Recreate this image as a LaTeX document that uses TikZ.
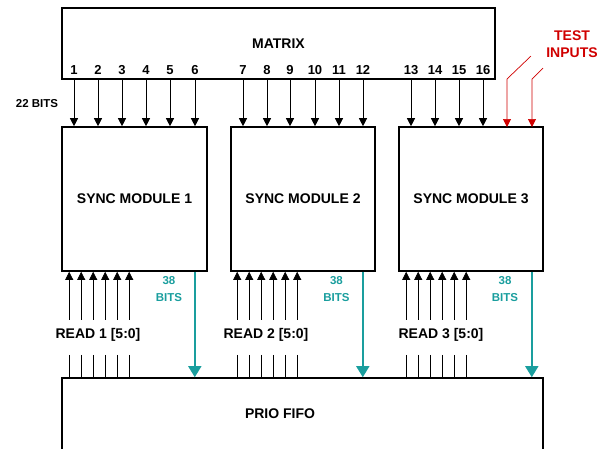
\documentclass[tikz,border=0pt]{standalone}
\usepackage{fontspec}
\setmainfont{Liberation Sans}
\usepackage{tikz}
\usetikzlibrary{positioning,arrows.meta,calc}
\definecolor{BusTeal}{HTML}{1A9E9E}
\definecolor{TestRed}{HTML}{D00000}

\begin{document}
\begin{tikzpicture}[
  x=1pt, y=-1pt,
  blk/.style={draw,line width=1.6pt,inner sep=0pt,font=\fontsize{14}{17}\selectfont\bfseries},
  pinno/.style={font=\fontsize{13}{15}\selectfont\bfseries,inner sep=0pt},
  ttl/.style={font=\fontsize{14}{17}\selectfont\bfseries,inner sep=0pt},
  small/.style={font=\fontsize{11.5}{17}\selectfont\bfseries,inner sep=0pt,align=center},
  arr/.style={-{Triangle[length=8pt,width=8pt]},line width=.7pt},
  pin/.style={line width=.7pt},
  tst/.style={-{Triangle[length=8pt,width=8pt]},line width=.7pt,draw=TestRed},
  bus/.style={-{Triangle[length=11pt,width=13pt]},line width=1.6pt,draw=BusTeal}]

\clip (0,0) rectangle (598,448);

% blocks
\node[blk,minimum width=433pt,minimum height=71pt] (mx) at (278.5,43.5) {MATRIX};
\node[blk,minimum width=145pt,minimum height=144pt] (s1) at (134.5,199) {SYNC MODULE 1};
\node[blk,minimum width=144pt,minimum height=144pt] (s2) at (303,199) {SYNC MODULE 2};
\node[blk,minimum width=144pt,minimum height=144pt] (s3) at (471,199) {SYNC MODULE 3};
\node[blk,minimum width=481pt,minimum height=92pt] (fifo) at (302.5,424) {};
\node[ttl] at (280,414) {PRIO FIFO};

% matrix outputs
\foreach \n/\x/\m in {1/74/s1,2/98/s1,3/122/s1,4/146/s1,5/170/s1,6/195/s1,
                      7/243/s2,8/267/s2,9/290/s2,10/315/s2,11/339/s2,12/363/s2,
                      13/411/s3,14/435/s3,15/459/s3,16/483/s3}{
  \node[pinno] (n\n) at (\x,70) {\n};
  \draw[arr] (n\n |- mx.south) -- (n\n |- \m.north);
}
\node[small] (bw) at (37,104) {22 BITS};

% test inputs
\node[ttl,text=TestRed,align=center] (ti) at (572,44.5) {TEST\\INPUTS};
\coordinate (t1) at (531,56);
\coordinate (t2) at (543,68);
\draw[tst] (t1) -- ++(-24,23) -- ++(0,48);
\draw[tst] (t2) -- ++(-11,11) -- ++(0,48);

% read strobes
\foreach \m/\o in {s1/8,s2/7,s3/8}{
  \foreach \k in {0,...,5}{
    \draw[arr] ($(\m.south west)+(\o+12*\k,48)$) -- ++(0,-48);
    \draw[pin] ($(\m.south west)+(\o+12*\k,83)$) -- ++(0,24);
  }
}
\node[ttl] (rd1) at (98,335) {READ 1 [5:0]};
\node[ttl] (rd2) at (266,335) {READ 2 [5:0]};
\node[ttl] (rd3) at (441,335) {READ 3 [5:0]};

% 38 bit buses
\coordinate (o1) at ([xshift=-13pt]s1.south east);
\coordinate (o2) at ([xshift=-13pt]s2.south east);
\coordinate (o3) at ([xshift=-12pt]s3.south east);
\draw[bus] (o1) -- (o1 |- fifo.north);
\draw[bus] (o2) -- (o2 |- fifo.north);
\draw[bus] (o3) -- (o3 |- fifo.north);
\node[small,text=BusTeal] at (169,289.5) {38\\BITS};
\node[small,text=BusTeal] at (336.5,289.5) {38\\BITS};
\node[small,text=BusTeal] at (505,289.5) {38\\BITS};
\end{tikzpicture}
\end{document}
